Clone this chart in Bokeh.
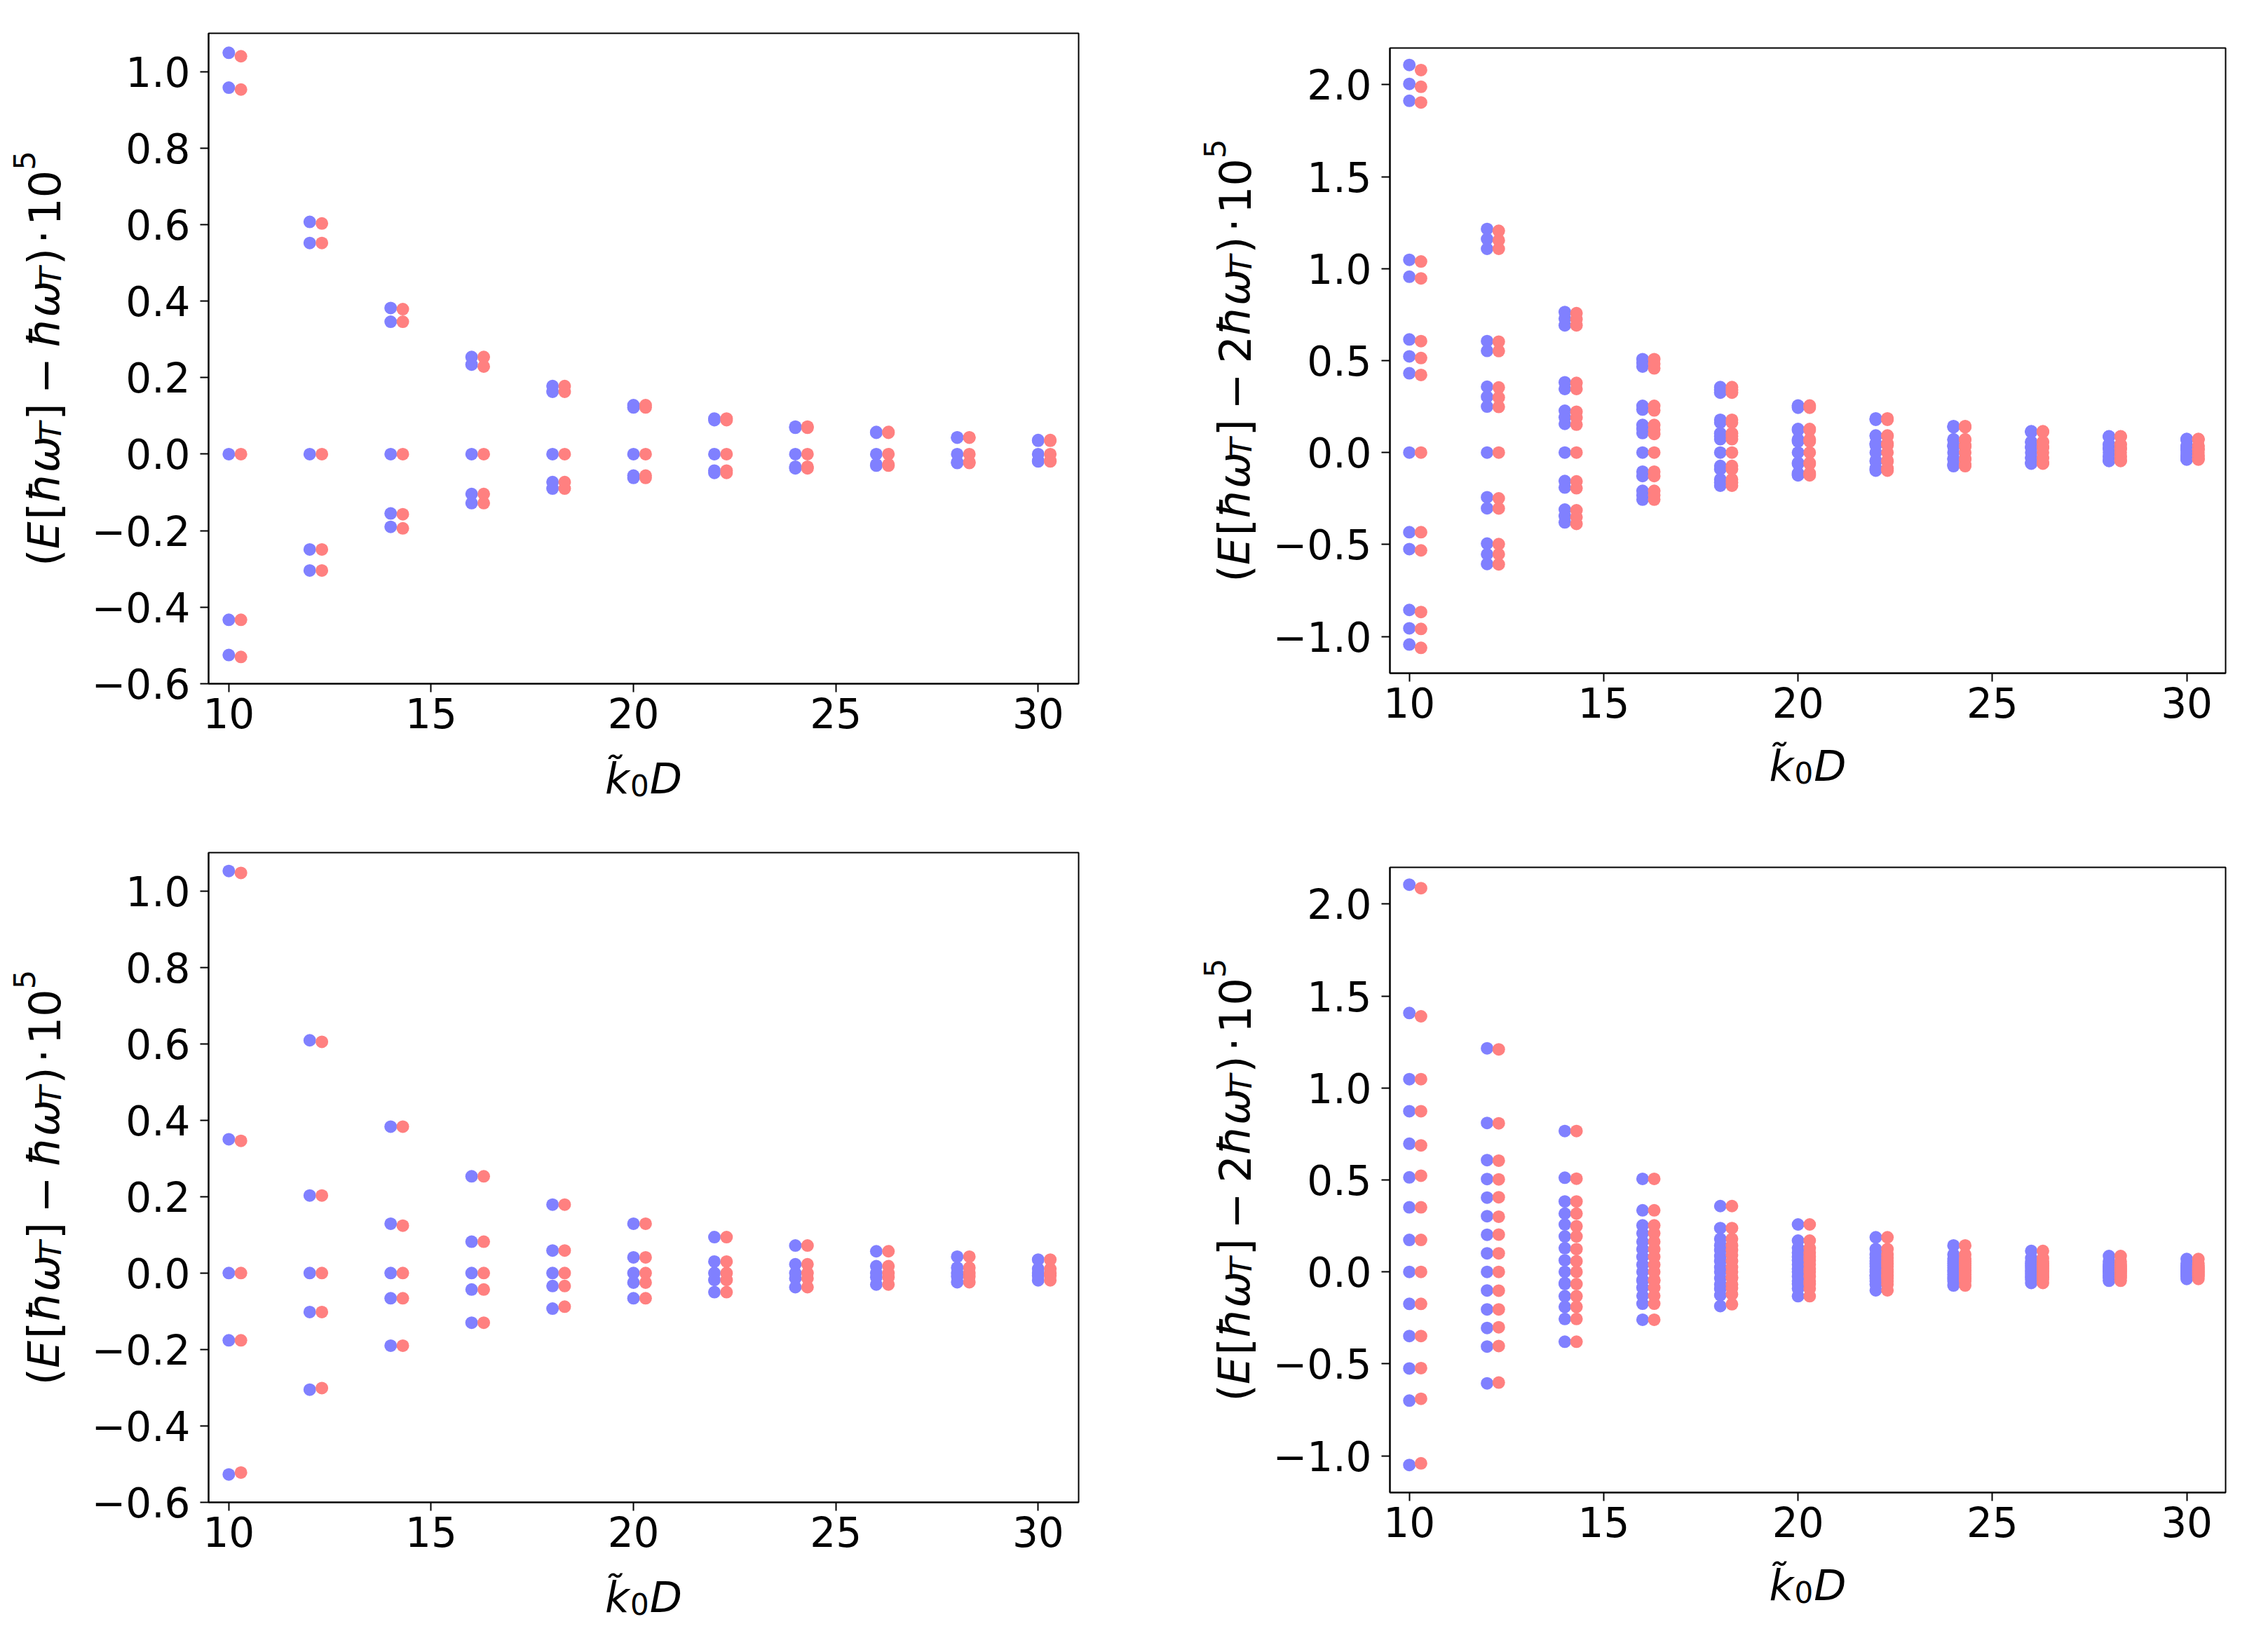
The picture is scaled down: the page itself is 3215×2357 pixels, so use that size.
from bokeh.plotting import figure
from bokeh.layouts import column, row
from bokeh.models import ColumnDataSource, FixedTicker, CustomJSTickFormatter, Label, Range1d
from bokeh.transform import dodge
from bokeh.embed import file_html
from bokeh.resources import INLINE

# ---------------- data ----------------
k0D = [10, 12, 14, 16, 18, 20, 22, 24, 26, 28, 30]

# top-left: (E[hw_T] - hw_T) * 1e5
tl_blue = [
    [1.049, 0.958, 0.0, -0.433, -0.525],
    [0.607, 0.552, 0.0, -0.249, -0.304],
    [0.382, 0.346, 0.0, -0.155, -0.190],
    [0.254, 0.234, 0.0, -0.104, -0.128],
    [0.178, 0.163, 0.0, -0.073, -0.090],
    [0.128, 0.122, 0.0, -0.056, -0.062],
    [0.093, 0.089, 0.0, -0.043, -0.049],
    [0.072, 0.069, 0.0, -0.033, -0.037],
    [0.058, 0.056, 0.0, -0.027, -0.030],
    [0.044, 0.043, 0.0, -0.021, -0.023],
    [0.037, 0.035, 0.0, -0.017, -0.019],
]
tl_red = [
    [1.040, 0.953, 0.0, -0.433, -0.530],
    [0.603, 0.552, 0.0, -0.249, -0.304],
    [0.379, 0.346, 0.0, -0.157, -0.194],
    [0.254, 0.229, 0.0, -0.104, -0.128],
    [0.178, 0.163, 0.0, -0.073, -0.090],
    [0.128, 0.122, 0.0, -0.056, -0.062],
    [0.093, 0.089, 0.0, -0.043, -0.049],
    [0.072, 0.069, 0.0, -0.033, -0.037],
    [0.058, 0.056, 0.0, -0.027, -0.030],
    [0.044, 0.043, 0.0, -0.021, -0.023],
    [0.037, 0.035, 0.0, -0.017, -0.019],
]

# bottom-left
bl_blue = [
    [1.052, 0.350, 0.0, -0.176, -0.527],
    [0.609, 0.203, 0.0, -0.102, -0.305],
    [0.383, 0.129, 0.0, -0.066, -0.190],
    [0.253, 0.082, 0.0, -0.043, -0.130],
    [0.179, 0.059, 0.0, -0.034, -0.093],
    [0.129, 0.041, 0.0, -0.025, -0.066],
    [0.094, 0.030, 0.0, -0.018, -0.050],
    [0.072, 0.023, 0.0, -0.014, -0.037],
    [0.057, 0.018, 0.0, -0.011, -0.030],
    [0.043, 0.014, 0.0, -0.009, -0.024],
    [0.035, 0.011, 0.0, -0.007, -0.019],
]
bl_red = [
    [1.047, 0.346, 0.0, -0.176, -0.522],
    [0.605, 0.203, 0.0, -0.102, -0.301],
    [0.383, 0.124, 0.0, -0.066, -0.190],
    [0.253, 0.082, 0.0, -0.043, -0.130],
    [0.179, 0.059, 0.0, -0.034, -0.088],
    [0.129, 0.041, 0.0, -0.025, -0.066],
    [0.094, 0.030, 0.0, -0.018, -0.050],
    [0.072, 0.023, 0.0, -0.014, -0.037],
    [0.057, 0.018, 0.0, -0.011, -0.030],
    [0.043, 0.014, 0.0, -0.009, -0.024],
    [0.035, 0.011, 0.0, -0.007, -0.019],
]

# top-right: (E[hw_T] - 2hw_T) * 1e5
tr_blue = [
    [2.108, 2.005, 1.913, 1.048, 0.956, 0.615, 0.523, 0.431, 0.0, -0.433, -0.525, -0.856, -0.956, -1.044],
    [1.216, 1.161, 1.108, 0.606, 0.553, 0.358, 0.303, 0.250, 0.0, -0.243, -0.303, -0.495, -0.553, -0.606],
    [0.764, 0.728, 0.692, 0.382, 0.346, 0.227, 0.192, 0.156, 0.0, -0.155, -0.190, -0.310, -0.345, -0.380],
    [0.508, 0.488, 0.468, 0.254, 0.234, 0.150, 0.128, 0.106, 0.0, -0.104, -0.128, -0.208, -0.232, -0.256],
    [0.356, 0.341, 0.326, 0.178, 0.163, 0.105, 0.089, 0.073, 0.0, -0.073, -0.090, -0.146, -0.163, -0.180],
    [0.256, 0.250, 0.244, 0.128, 0.122, 0.072, 0.066, 0.060, 0.0, -0.056, -0.062, -0.112, -0.118, -0.124],
    [0.186, 0.182, 0.178, 0.093, 0.089, 0.050, 0.046, 0.040, 0.0, -0.043, -0.049, -0.086, -0.092, -0.098],
    [0.144, 0.141, 0.138, 0.072, 0.069, 0.039, 0.036, 0.032, 0.0, -0.033, -0.037, -0.066, -0.070, -0.074],
    [0.116, 0.114, 0.112, 0.058, 0.056, 0.031, 0.029, 0.026, 0.0, -0.027, -0.030, -0.054, -0.057, -0.060],
    [0.088, 0.087, 0.086, 0.044, 0.043, 0.023, 0.022, 0.021, 0.0, -0.021, -0.023, -0.042, -0.044, -0.046],
    [0.074, 0.072, 0.070, 0.037, 0.035, 0.020, 0.018, 0.016, 0.0, -0.017, -0.019, -0.034, -0.036, -0.038],
]
tr_red = [
    [2.080, 1.989, 1.904, 1.039, 0.947, 0.606, 0.514, 0.422, 0.0, -0.433, -0.532, -0.867, -0.959, -1.062],
    [1.206, 1.154, 1.108, 0.603, 0.552, 0.354, 0.299, 0.248, 0.0, -0.249, -0.304, -0.498, -0.553, -0.608],
    [0.758, 0.725, 0.692, 0.379, 0.346, 0.222, 0.189, 0.152, 0.0, -0.157, -0.194, -0.314, -0.351, -0.388],
    [0.508, 0.483, 0.458, 0.254, 0.229, 0.150, 0.125, 0.101, 0.0, -0.104, -0.128, -0.208, -0.232, -0.256],
    [0.356, 0.341, 0.326, 0.178, 0.163, 0.105, 0.089, 0.073, 0.0, -0.073, -0.090, -0.146, -0.163, -0.180],
    [0.256, 0.250, 0.244, 0.128, 0.122, 0.072, 0.066, 0.060, 0.0, -0.056, -0.062, -0.112, -0.118, -0.124],
    [0.186, 0.182, 0.178, 0.093, 0.089, 0.050, 0.046, 0.040, 0.0, -0.043, -0.049, -0.086, -0.092, -0.098],
    [0.144, 0.141, 0.138, 0.072, 0.069, 0.039, 0.036, 0.032, 0.0, -0.033, -0.037, -0.066, -0.070, -0.074],
    [0.116, 0.114, 0.112, 0.058, 0.056, 0.031, 0.029, 0.026, 0.0, -0.027, -0.030, -0.054, -0.057, -0.060],
    [0.088, 0.087, 0.086, 0.044, 0.043, 0.023, 0.022, 0.021, 0.0, -0.021, -0.023, -0.042, -0.044, -0.046],
    [0.074, 0.072, 0.070, 0.037, 0.035, 0.020, 0.018, 0.016, 0.0, -0.017, -0.019, -0.034, -0.036, -0.038],
]

# bottom-right
br_blue = [
    [2.106, 1.408, 1.048, 0.874, 0.697, 0.514, 0.351, 0.174, 0.0, -0.174, -0.349, -0.525, -0.700, -1.050],
    [1.216, 0.810, 0.608, 0.505, 0.404, 0.303, 0.202, 0.101, 0.0, -0.101, -0.204, -0.305, -0.406, -0.606],
    [0.766, 0.512, 0.383, 0.317, 0.258, 0.193, 0.129, 0.063, 0.0, -0.061, -0.066, -0.132, -0.190, -0.256, -0.380],
    [0.506, 0.335, 0.253, 0.210, 0.164, 0.123, 0.082, 0.039, 0.0, -0.043, -0.048, -0.086, -0.130, -0.173, -0.260],
    [0.358, 0.238, 0.179, 0.145, 0.118, 0.086, 0.059, 0.025, 0.0, -0.034, -0.068, -0.093, -0.127, -0.186],
    [0.258, 0.170, 0.129, 0.104, 0.082, 0.063, 0.041, 0.016, 0.0, -0.025, -0.050, -0.066, -0.091, -0.132],
    [0.188, 0.124, 0.094, 0.076, 0.060, 0.044, 0.030, 0.012, 0.0, -0.018, -0.020, -0.036, -0.050, -0.068, -0.100],
    [0.144, 0.095, 0.072, 0.058, 0.046, 0.035, 0.023, 0.009, 0.0, -0.014, -0.028, -0.037, -0.051, -0.074],
    [0.114, 0.075, 0.057, 0.046, 0.036, 0.027, 0.018, 0.007, 0.0, -0.011, -0.022, -0.030, -0.041, -0.060],
    [0.086, 0.057, 0.043, 0.034, 0.028, 0.019, 0.014, 0.005, 0.0, -0.009, -0.018, -0.024, -0.033, -0.048],
    [0.070, 0.046, 0.035, 0.028, 0.022, 0.016, 0.011, 0.004, 0.0, -0.007, -0.014, -0.019, -0.026, -0.038],
]
br_red = [
    [2.087, 1.390, 1.048, 0.874, 0.688, 0.523, 0.351, 0.174, 0.0, -0.174, -0.349, -0.523, -0.690, -1.041],
    [1.210, 0.808, 0.605, 0.503, 0.406, 0.300, 0.203, 0.101, 0.0, -0.102, -0.204, -0.301, -0.403, -0.602],
    [0.766, 0.507, 0.383, 0.317, 0.248, 0.193, 0.124, 0.058, 0.0, -0.066, -0.132, -0.190, -0.256, -0.380],
    [0.506, 0.335, 0.253, 0.210, 0.164, 0.123, 0.082, 0.039, 0.0, -0.043, -0.048, -0.086, -0.130, -0.173, -0.260],
    [0.358, 0.238, 0.179, 0.145, 0.118, 0.091, 0.059, 0.025, 0.0, -0.029, -0.034, -0.068, -0.088, -0.122, -0.176],
    [0.258, 0.170, 0.129, 0.104, 0.082, 0.063, 0.041, 0.016, 0.0, -0.025, -0.050, -0.066, -0.091, -0.132],
    [0.188, 0.124, 0.094, 0.076, 0.060, 0.044, 0.030, 0.012, 0.0, -0.018, -0.020, -0.036, -0.050, -0.068, -0.100],
    [0.144, 0.095, 0.072, 0.058, 0.046, 0.035, 0.023, 0.009, 0.0, -0.014, -0.028, -0.037, -0.051, -0.074],
    [0.114, 0.075, 0.057, 0.046, 0.036, 0.027, 0.018, 0.007, 0.0, -0.011, -0.022, -0.030, -0.041, -0.060],
    [0.086, 0.057, 0.043, 0.034, 0.028, 0.019, 0.014, 0.005, 0.0, -0.009, -0.018, -0.024, -0.033, -0.048],
    [0.070, 0.046, 0.035, 0.028, 0.022, 0.016, 0.011, 0.004, 0.0, -0.007, -0.014, -0.019, -0.026, -0.038],
]

x_ticks = [10, 15, 20, 25, 30]
y_ticks_1 = [-0.6, -0.4, -0.2, 0.0, 0.2, 0.4, 0.6, 0.8, 1.0]
y_ticks_2 = [-1.0, -0.5, 0.0, 0.5, 1.0, 1.5, 2.0]

# ---------------- styling ----------------
FONT = "DejaVu Sans"
BLUE = "#8080ff"
RED = "#ff8080"
TICK_FS = 58
LABEL_FS = 62
XLAB_FS = 60
X0, X1 = 9.5, 31.0

YL_ONE = [  # text, style, scale, baseline shift (em, + = down), advance (em)
    ("(", "normal", 1.0, 0.0, 0.390),
    ("E", "italic", 1.0, 0.0, 0.680),
    ("[", "normal", 1.0, 0.0, 0.390),
    ("\u0127\u03c9", "italic", 1.0, 0.0, 1.430),
    ("T", "italic", 0.7, 0.16, 0.470),
    ("]", "normal", 1.0, 0.0, 0.610),
    ("\u2212", "normal", 1.0, 0.0, 1.060),
    ("\u0127\u03c9", "italic", 1.0, 0.0, 1.430),
    ("T", "italic", 0.7, 0.16, 0.470),
    (")", "normal", 1.0, 0.0, 0.490),
    ("\u00b7", "normal", 1.0, 0.0, 0.420),
    ("10", "normal", 1.0, 0.0, 1.272),
    ("5", "normal", 0.7, -0.45, 0.445),
]
YL_TWO = YL_ONE[:7] + [("2", "normal", 1.0, 0.0, 0.636)] + YL_ONE[7:]
XL = [
    ("k\u0303", "italic", 1.0, 0.0, 0.600),
    ("0", "normal", 0.7, 0.17, 0.460),
    ("D", "italic", 1.0, 0.0, 0.770),
]


def flatten(ks, cols):
    xs, ys = [], []
    for k, col in zip(ks, cols):
        for v in col:
            xs.append(k)
            ys.append(v)
    return ColumnDataSource(dict(x=xs, y=ys))


def blank(width, height, bt=0, bb=0):
    f = figure(width=width, height=height, output_backend="svg", toolbar_location=None,
               x_axis_location=None, y_axis_location=None,
               x_range=Range1d(0, width), y_range=Range1d(0, height - bt - bb),
               min_border_left=0, min_border_right=0,
               min_border_top=bt, min_border_bottom=bb)
    f.title.visible = False
    f.grid.visible = False
    f.outline_line_color = None
    f.background_fill_color = "white"
    f.border_fill_color = "white"
    return f


def main_fig(blue, red, y0, y1, yticks, bl, fw, br, bt, fh, bb):
    p = figure(width=bl + fw + br, height=bt + fh + bb,
               x_range=Range1d(X0, X1), y_range=Range1d(y0, y1),
               output_backend="svg", toolbar_location=None,
               min_border_left=bl, min_border_right=br,
               min_border_top=bt, min_border_bottom=bb)
    p.title.visible = False
    p.grid.visible = False
    p.background_fill_color = "white"
    p.border_fill_color = "white"
    p.outline_line_color = "black"
    p.outline_line_width = 2
    p.outline_line_alpha = 1.0
    p.xaxis.ticker = FixedTicker(ticks=x_ticks)
    p.yaxis.ticker = FixedTicker(ticks=yticks)
    p.xaxis.formatter = CustomJSTickFormatter(code="return tick.toFixed(0);")
    p.yaxis.formatter = CustomJSTickFormatter(
        code="return tick.toFixed(1).replace('-', '\u2212');")
    for ax in (p.xaxis[0], p.yaxis[0]):
        ax.axis_line_color = "black"
        ax.axis_line_width = 2
        ax.major_tick_line_color = "black"
        ax.major_tick_line_width = 2
        ax.major_tick_out = 12
        ax.major_tick_in = 0
        ax.minor_tick_out = 0
        ax.minor_tick_in = 0
        ax.major_label_text_font = FONT
        ax.major_label_text_font_size = f"{TICK_FS}px"
        ax.major_label_text_color = "black"
    p.xaxis.major_label_standoff = 8
    p.yaxis.major_label_standoff = 14
    p.scatter(x="x", y="y", source=flatten(k0D, blue), size=18,
              fill_color=BLUE, line_color=None)
    p.scatter(x=dodge("x", 0.3), y="y", source=flatten(k0D, red), size=18,
              fill_color=RED, line_color=None)
    return p


def panel(blue, red, y0, y1, yticks, yl_pieces, yl_w, yl_base,
          bl, fw, br, bt, fh, bb_total, xl_base):
    bb = 90
    p = main_fig(blue, red, y0, y1, yticks, bl, fw, br, bt, fh, bb)
    H = bt + fh + bb
    # rotated y label in its own strip, centred on the frame
    yl = blank(yl_w, H, bt, bb)
    total = sum(a for *_, a in yl_pieces) * LABEL_FS
    cum = fh / 2 - total / 2
    for text, style, scale, shift, adv in yl_pieces:
        yl.add_layout(Label(x=yl_base + shift * LABEL_FS, y=cum, text=text,
                            angle=90, angle_units="deg", text_font=FONT,
                            text_font_size=f"{LABEL_FS * scale:.1f}px",
                            text_font_style=style, text_align="left",
                            text_baseline="alphabetic", text_color="black"))
        cum += adv * LABEL_FS
    # x label strip below the figure
    xh = bt + fh + bb_total - H
    xw = yl_w + bl + fw + br
    xl = blank(xw, xh)
    total = sum(a for *_, a in XL) * XLAB_FS
    cum = yl_w + bl + fw / 2 - total / 2
    base_y = xh - (xl_base - bb)
    for text, style, scale, shift, adv in XL:
        xl.add_layout(Label(x=cum, y=base_y - shift * XLAB_FS, text=text,
                            text_font=FONT, text_font_size=f"{XLAB_FS * scale:.1f}px",
                            text_font_style=style, text_align="left",
                            text_baseline="alphabetic", text_color="black"))
        cum += adv * XLAB_FS
    return column(row(yl, p), xl)


# left column: frame x 297..1538; right column: frame x 1982..3174
tl = panel(tl_blue, tl_red, -0.6, 1.1, y_ticks_1, YL_ONE, 110, 62,
           187, 1241, 22, 47, 928, 205, 135)
bl = panel(bl_blue, bl_red, -0.6, 1.1, y_ticks_1, YL_ONE, 110, 62,
           187, 1241, 22, 36, 927, 207, 135)
tr = panel(tr_blue, tr_red, -1.2, 2.2, y_ticks_2, YL_TWO, 242, 200,
           180, 1192, 20, 68, 892, 220, 132)
br = panel(br_blue, br_red, -1.2, 2.2, y_ticks_2, YL_TWO, 242, 200,
           180, 1192, 20, 57, 892, 221, 132)

lay = row(column(tl, bl), column(tr, br))
open("out.html", "w").write(file_html(lay, INLINE, "plot"))
